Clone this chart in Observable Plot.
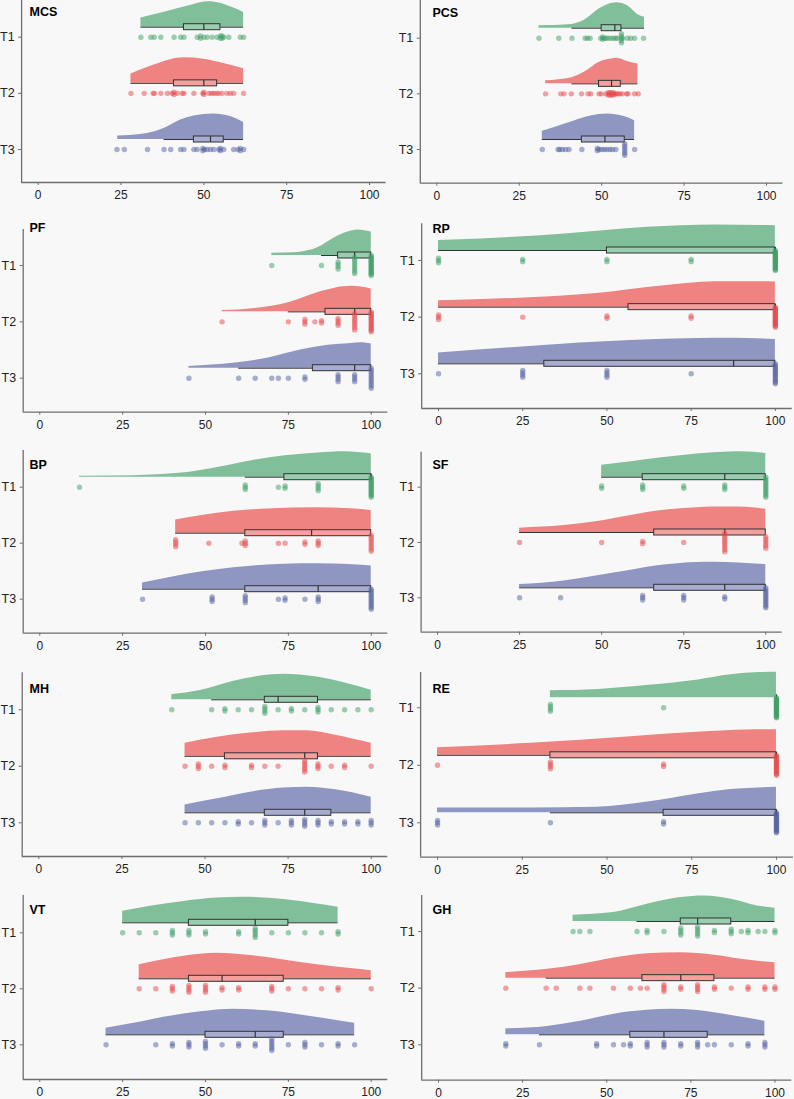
<!DOCTYPE html>
<html><head><meta charset="utf-8">
<script src="https://cdn.jsdelivr.net/npm/d3@7"></script>
<script src="https://cdn.jsdelivr.net/npm/@observablehq/plot@0.6"></script>
<style>
body{margin:0;background:#f8f8f8;}
#page{position:relative;width:794px;height:1099px;background:#f8f8f8;overflow:hidden;font-family:"Liberation Sans",Arial,Helvetica,sans-serif;}
.cell{position:absolute;}
</style></head><body><div id="page"></div>
<script>
// ---------------- DATA ----------------
const panelNames = ["MCS","PCS","PF","RP","BP","SF","MH","RE","VT","GH"];
const times = ["T1","T2","T3"];
const xTicks = [0,25,50,75,100];

// points: [value, count] per time point (T1, T2, T3)
const MCS_points = [
  [[31,1],[34,1],[35,1],[37,1],[41,1],[43,1],[44,1],[48,1],[49,2],[50,1],[51,1],[52.5,1],[54,1],[55,2],[55.5,2],[56,1],[57.5,1],[61,1],[62,1]],
  [[28,1],[32,1],[34.7,1],[35.1,1],[37,1],[39,1],[40.4,1],[41,2],[42,1],[43.5,1],[44,1],[47,1],[49.7,1],[50,2],[51.5,1],[52.3,1],[53,1],[53.8,1],[54.5,1],[55.5,1],[57,1],[58,1],[59,1],[62,1]],
  [[23.8,1],[26,1],[33,1],[38,1],[40,1],[43,1],[44,1],[47,1],[48,1],[49.7,2],[50.2,1],[51,1],[52,1],[53,1],[54.5,1],[55,2],[56,1],[59,1],[60.3,1],[61,2],[62,1]]
];
const PCS_points = [
  [[31,1],[37,1],[41,1],[45,1],[45.7,1],[46.5,1],[49.7,1],[50.3,2],[50.8,1],[51.3,1],[52,1],[52.8,1],[53.6,1],[54.3,1],[54.8,1],[56,5],[56.3,1],[57.8,1],[58.8,1],[60,1],[62.7,1]],
  [[33,1],[37.6,1],[38.6,1],[40.8,1],[43.9,1],[45.9,1],[46.7,1],[49.2,1],[49.9,1],[51.3,1],[52,2],[52.5,2],[53,2],[53.6,2],[54,1],[54.5,1],[55,1],[55.6,1],[56.3,1],[57.6,1],[58,1],[60,1],[61.1,1]],
  [[32,1],[36.8,1],[37.3,1],[38.1,1],[39.1,1],[40.1,1],[44,1],[48.7,2],[49.2,1],[50,1],[50.8,1],[51.6,1],[52.5,1],[53.3,1],[54.3,1],[57,6],[60,1]]
];
const PF_points = [
  [[70,1],[85,1],[90,4],[95,8],[100,18]],
  [[55,1],[75,1],[80,3],[83,1],[85,2],[90,4],[95,8],[100,14]],
  [[45,1],[60,1],[65,1],[70,1],[72,1],[75,1],[80,2],[90,4],[95,4],[100,10]]
];
const RP_points = [
  [[0,3],[25,2],[50,2],[75,2],[100,22]],
  [[0,3],[25,1],[50,2],[75,2],[100,20]],
  [[0,1],[25,4],[50,4],[75,1],[100,14]]
];
const BP_points = [
  [[12,1],[62,3],[72,1],[74,2],[84,4],[100,16]],
  [[41,4],[51,1],[61,1],[62,3],[72,1],[74,1],[80,2],[84,3],[100,8]],
  [[31,1],[52,3],[62,4],[72,1],[74,2],[80,1],[84,3],[100,12]]
];
const SF_points = [
  [[50,2],[62.5,3],[75,2],[87.5,3],[100,12]],
  [[25,1],[50,1],[62.5,2],[75,1],[87.5,9],[100,6]],
  [[25,1],[37.5,1],[62.5,3],[75,3],[87.5,2],[100,12]]
];
const MH_points = [
  [[40,1],[52,1],[56,2],[60,1],[64,1],[68,4],[72,1],[76,2],[80,1],[84,3],[88,1],[92,1],[96,1],[100,1]],
  [[44,1],[48,3],[52,1],[56,2],[64,2],[68,1],[72,1],[80,6],[84,3],[88,1],[92,2],[100,1]],
  [[44,1],[48,1],[52,1],[56,1],[60,2],[64,1],[68,3],[72,1],[76,3],[80,4],[84,3],[88,2],[92,2],[96,2],[100,3]]
];
const RE_points = [
  [[33.3,4],[66.7,1],[100,24]],
  [[0,1],[33.3,4],[66.7,2],[100,18]],
  [[0,3],[33.3,1],[66.7,2],[100,20]]
];
const VT_points = [
  [[25,1],[30,1],[35,1],[40,3],[45,3],[50,2],[60,2],[65,5],[70,1],[75,1],[80,1],[85,1],[90,2]],
  [[30,1],[35,1],[40,3],[45,4],[50,4],[55,2],[60,2],[70,3],[75,1],[80,1],[85,1],[90,2],[100,1]],
  [[20,1],[35,1],[40,2],[45,3],[50,4],[55,1],[60,2],[65,2],[70,6],[75,1],[80,3],[85,1],[90,2],[95,1]]
];
const GH_points = [
  [[40,1],[42,1],[45,1],[59,1],[62,2],[67,1],[72,4],[77,5],[82,2],[87,3],[90,1],[92,2],[95,1],[97,1],[100,2]],
  [[20,1],[32,1],[35,1],[42,1],[45,1],[52,1],[57,1],[60,1],[62,1],[67,4],[72,2],[77,4],[82,2],[87,1],[92,2],[97,2],[100,2]],
  [[20,2],[30,1],[47,2],[52,1],[55,1],[57,2],[62,3],[67,3],[72,2],[77,3],[80,1],[82,1],[87,1],[92,2],[97,3]]
];

// box stats: [lower whisker, Q1, median, Q3, upper whisker]
const MCS_box = [[31,44,50,55,62],[28,41,50,54,62],[38,47,52,56,62]];
const PCS_box = [[41,50,54,56,63],[41,49.2,53,55.8,61],[32,44,51,57,60]];
const PF_box  = [[85,90,95,100,100],[75,86.2,95,100,100],[60,82.4,95,100,100]];
const RP_box  = [[0,50,100,100,100],[0,56.4,100,100,100],[0,31.4,87.6,100,100]];
const BP_box  = [[62,73.8,100,100,100],[41,62,82,100,100],[31,62,84,100,100]];
const SF_box  = [[50,62.5,87.5,100,100],[25,66,87.5,100,100],[25,66,87.5,100,100]];
const MH_box  = [[52,68,72,84,100],[44,56,80,84,100],[44,68,80,88,100]];
const RE_box  = [[100,100,100,100,100],[0,33.3,100,100,100],[33.3,66.7,100,100,100]];
const VT_box  = [[25,45,65,75,90],[30,45,55,73.6,100],[20,50,65,73.6,95]];
const GH_box  = [[59,72,77,87,100],[32,60.6,72,82,100],[30,57,67,80,97]];

// density profiles (value, relative height)
const MCS_density = [
  [[31,0.36],[39,0.62],[45,0.82],[49,0.96],[51.5,1],[55,0.94],[59,0.75],[62,0.58]],
  [[28,0.37],[35,0.72],[40,0.93],[44,1],[50,0.95],[56,0.78],[62,0.57]],
  [[24,0.14],[33,0.24],[38,0.43],[43,0.76],[47,0.92],[53,1],[58,0.9],[62,0.67]]
];
const PCS_density = [
  [[31,0.1],[41,0.15],[45,0.33],[49,0.73],[52,0.93],[54.5,1],[58,0.87],[61,0.53],[63,0.43]],
  [[33,0.12],[41,0.24],[45,0.47],[49,0.83],[53,0.97],[54.5,1],[58,0.87],[61,0.78]],
  [[32,0.32],[36.6,0.51],[41.7,0.73],[46.7,0.92],[51.8,1],[56.8,0.9],[60,0.74]]
];
const PF_density = [
  [[70,0.09],[78,0.12],[84,0.31],[89,0.7],[93,0.92],[96,1],[100,0.92]],
  [[55,0.05],[65,0.13],[75,0.36],[84,0.76],[89,0.93],[94,1],[100,0.9]],
  [[45,0.07],[59,0.2],[69,0.4],[79,0.72],[87,0.9],[94,0.97],[97,1],[100,0.95]]
];
const RP_density = [
  [[0,0.39],[12.5,0.45],[37.5,0.65],[62,0.91],[82,1],[100,0.97]],
  [[0,0.25],[27,0.37],[47,0.54],[67,0.84],[82,1],[100,0.99]],
  [[0,0.42],[27,0.68],[57,0.91],[77,0.99],[87,1],[100,0.95]]
];
const BP_density = [
  [[12,0.04],[28,0.06],[43,0.16],[54,0.39],[64,0.65],[74,0.84],[84,0.95],[92,1],[100,0.92]],
  [[41,0.52],[48.5,0.68],[58.5,0.86],[68.5,0.95],[83.5,1],[94,0.96],[100,0.89]],
  [[31,0.24],[38.6,0.44],[48.5,0.67],[58.5,0.84],[68.6,0.95],[78.7,1],[88.7,0.99],[100,0.91]]
];
const SF_density = [
  [[50,0.47],[59,0.61],[69,0.77],[79,0.91],[89,0.99],[92.5,1],[100,0.93]],
  [[25,0.17],[38.6,0.27],[48.7,0.43],[58.9,0.67],[69,0.87],[79,0.97],[84,1],[92,1],[100,0.91]],
  [[25,0.13],[38.6,0.27],[48.7,0.47],[58.9,0.69],[69,0.89],[79,0.99],[84,1],[100,0.91]]
];
const MH_density = [
  [[40,0.2],[48.6,0.36],[58.7,0.73],[66.7,0.93],[73.7,1],[83.7,0.89],[93.8,0.6],[100,0.37]],
  [[44,0.51],[53.7,0.75],[63.7,0.91],[73.7,1],[80.7,1],[88.8,0.84],[100,0.51]],
  [[44,0.31],[53.7,0.55],[63.7,0.81],[73.7,0.97],[80.7,1],[88.8,0.91],[100,0.61]]
];
const RE_density = [
  [[33.3,0.28],[47.5,0.33],[62.3,0.49],[77,0.7],[86.5,0.9],[95,0.99],[100,1]],
  [[0,0.3],[27.5,0.47],[57,0.73],[76.7,0.9],[91.4,0.99],[100,1]],
  [[0,0.19],[27.5,0.19],[47,0.22],[62,0.42],[76.7,0.74],[86.5,0.91],[100,1]]
];
const VT_density = [
  [[25,0.45],[33.4,0.65],[43.5,0.84],[53.5,0.97],[61.6,1],[73.6,0.91],[83.7,0.74],[90,0.61]],
  [[30,0.55],[38.5,0.78],[48.5,0.96],[53.5,1],[63.6,0.91],[73.6,0.74],[83.7,0.55],[93.8,0.4],[100,0.32]],
  [[20,0.26],[28.4,0.45],[38.4,0.71],[48.5,0.9],[58.5,1],[68.6,0.94],[78.7,0.78],[88.7,0.58],[95,0.45]]
];
const GH_density = [
  [[40,0.25],[52,0.35],[62,0.68],[72,0.94],[79,1],[87,0.87],[94.8,0.61],[100,0.52]],
  [[20,0.22],[32.4,0.35],[42.3,0.54],[52.2,0.79],[62,0.96],[72,1],[82,0.9],[91.8,0.71],[100,0.6]],
  [[20,0.23],[32.4,0.33],[42.3,0.53],[52.2,0.81],[62,0.96],[69,1],[77,0.95],[87,0.76],[97,0.53]]
];

const allPoints  = [MCS_points,PCS_points,PF_points,RP_points,BP_points,SF_points,MH_points,RE_points,VT_points,GH_points];
const allBoxes   = [MCS_box,PCS_box,PF_box,RP_box,BP_box,SF_box,MH_box,RE_box,VT_box,GH_box];
const allDensity = [MCS_density,PCS_density,PF_density,RP_density,BP_density,SF_density,MH_density,RE_density,VT_density,GH_density];

// ---------------- STYLE / LAYOUT ----------------
const pointColors   = ["#3ea066","#e8484a","#5361a2"];
const densityColors = ["#80bf9a","#ee8381","#8e96c1"];
const boxFills      = ["#98cdae","#f3a09e","#a7add0"];
// page-pixel frames: [axisLeft, axisRight, axisTop, axisBottom, rowT1, rowT3, titleX, titleY]
const frames = [
  [21.1,385.6,0,182,36.7,149,29,11.7],
  [419.8,782.5,0,182.7,37.7,149,432,12],
  [22.7,387.3,229,411.7,265,377.7,29,227.3],
  [421.2,791.7,223.3,408,260,373.3,432,228],
  [22.7,387.3,450,632.7,486.7,598.7,29,464],
  [420.6,781.7,451.7,631.7,486.7,597.3,432,464],
  [21.7,387.3,672.3,856,709.3,822.3,29,688],
  [420.1,792.9,672,856.7,707.3,822.3,432,688],
  [22.7,387.3,895,1079,932.3,1044.3,29,909],
  [421.2,791.3,895,1079.7,931,1044.3,432,909]
];
const rowTops = [0,214,436,658,878];
const rowHeights = [212,220,220,220,221];

const page = document.getElementById("page");

panelNames.forEach((name, i) => {
  const [ax0, ax1, top, bottom, t1, t3, tx, ty] = frames[i];
  const col = i % 2, row = Math.floor(i / 2);
  const cellX = col * 397, cellY = rowTops[row], cellH = rowHeights[row];
  const unit = (t3 - t1) / 2;              // px per category step
  const yMin = 1 - (bottom - t3) / unit;
  const yMax = 3 + (t1 - top) / unit;
  const base = 10 / unit, peak = 25.5 / unit, half = 3 / unit;

  const marks = [];
  times.forEach((t, k) => {
    const yRow = 3 - k;
    const dens = allDensity[i][k].map(([x, h]) => ({x, y1: yRow + base, y2: yRow + base + h * peak}));
    marks.push(Plot.areaY(dens, {x: "x", y1: "y1", y2: "y2", fill: densityColors[k], curve: "monotone-x"}));
  });
  times.forEach((t, k) => {
    const yRow = 3 - k;
    const [lo, q1, med, q3, hi] = allBoxes[i][k];
    const yb = yRow + base;
    marks.push(Plot.ruleY([{x1: lo, x2: q1, y: yb}, {x1: q3, x2: hi, y: yb}], {x1: "x1", x2: "x2", y: "y", stroke: "#333", strokeWidth: 1}));
    marks.push(Plot.rect([{x1: q1, x2: q3, y1: yb - half, y2: yb + half}], {x1: "x1", x2: "x2", y1: "y1", y2: "y2", fill: boxFills[k], stroke: "#333", strokeWidth: 1}));
    marks.push(Plot.ruleX([{x: med, y1: yb - half, y2: yb + half}], {x: "x", y1: "y1", y2: "y2", stroke: "#333", strokeWidth: 1.2}));
    // points with vertical spread for tied values
    const pts = [];
    allPoints[i][k].forEach(([v, n]) => {
      const spread = Math.min(2.3 * (n - 1), 20);
      for (let j = 0; j < n; j++) {
        const off = n > 1 ? -spread / 2 + spread * j / (n - 1) : 0;
        pts.push({x: v, y: yRow - off / unit});
      }
    });
    marks.push(Plot.dot(pts, {x: "x", y: "y", r: 2.7, fill: pointColors[k], fillOpacity: 0.5, stroke: "none"}));
  });
  marks.push(Plot.ruleX([-5], {stroke: "#6e6e6e", strokeWidth: 1.3}));
  marks.push(Plot.ruleY([yMin], {stroke: "#6e6e6e", strokeWidth: 1.3}));
  marks.push(Plot.axisX({ticks: xTicks, tickSize: 3, tickPadding: 5, stroke: "#6e6e6e", fill: "#222", fontSize: 12, label: null}));
  marks.push(Plot.axisY({ticks: [1, 2, 3], tickFormat: d => times[3 - d], tickSize: 3, tickPadding: 4, stroke: "#6e6e6e", fill: "#222", fontSize: 12.5, label: null}));
  marks.push(Plot.text([name], {text: d => d, frameAnchor: "top-left", dx: tx - ax0, dy: ty - top, textAnchor: "start", lineAnchor: "middle", fontWeight: "bold", fontSize: 12.5, fill: "#000"}));

  const svg = Plot.plot({
    width: 397, height: cellH,
    marginLeft: ax0 - cellX, marginRight: cellX + 397 - ax1,
    marginTop: top - cellY, marginBottom: cellY + cellH - bottom,
    x: {domain: [-5, 105]},
    y: {domain: [yMin, yMax]},
    style: {background: "transparent", fontFamily: "'Liberation Sans', Arial, Helvetica, sans-serif", overflow: "visible"},
    marks
  });
  const div = document.createElement("div");
  div.className = "cell";
  div.style.left = cellX + "px";
  div.style.top = cellY + "px";
  div.appendChild(svg);
  page.appendChild(div);
});
</script></body></html>
